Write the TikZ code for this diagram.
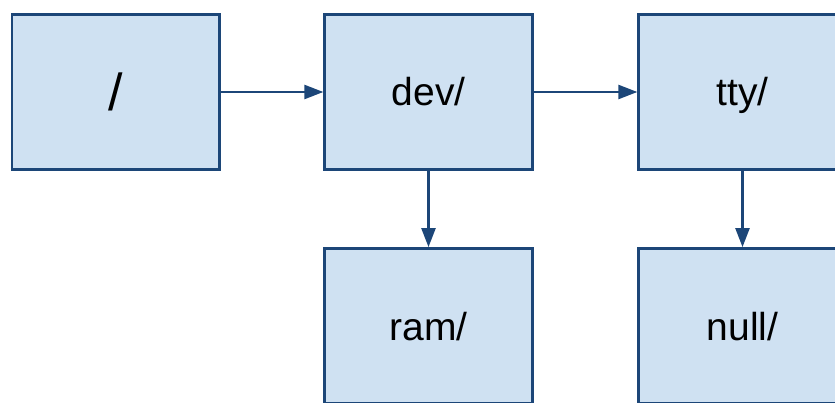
\documentclass[tikz,border=0pt]{standalone}
\usepackage{fontspec}
\setmainfont{Liberation Sans}
\usetikzlibrary{arrows.meta}
\definecolor{boxfill}{RGB}{207,225,242}
\definecolor{boxline}{RGB}{28,70,120}
\tikzset{
  dirbox/.style={draw=boxline, fill=boxfill, line width=2.8pt,
    minimum width=207.5pt, minimum height=155pt, inner sep=0pt,
    font=\fontsize{39}{44}\selectfont, text height=28pt, text depth=0pt},
  rootlabel/.style={font=\fontsize{52}{58}\selectfont, text height=37pt, text depth=0pt},
  link/.style={draw=boxline, line width=2.4pt,
    -{Triangle[length=19pt,width=14pt]}}
}
\begin{document}
\begin{tikzpicture}[x=1pt,y=1pt]
  \useasboundingbox (0,0) rectangle (835,402);
  % directory boxes (y measured from the bottom edge)
  \node[dirbox, rootlabel] (root) at (115.8,310) {/};
  \node[dirbox] (dev)  at (428.5,310) {dev/};
  \node[dirbox] (tty)  at (742.5,310) {tty/};
  \node[dirbox] (ram)  at (428.5,76)  {ram/};
  \node[dirbox] (null) at (742.5,76)  {null/};
  % links between directories
  \draw[link] (root.east) -- (dev.west);
  \draw[link] (dev.east) -- (tty.west);
  \draw[link] (dev.south) -- (ram.north);
  \draw[link] (tty.south) -- (null.north);
\end{tikzpicture}
\end{document}
